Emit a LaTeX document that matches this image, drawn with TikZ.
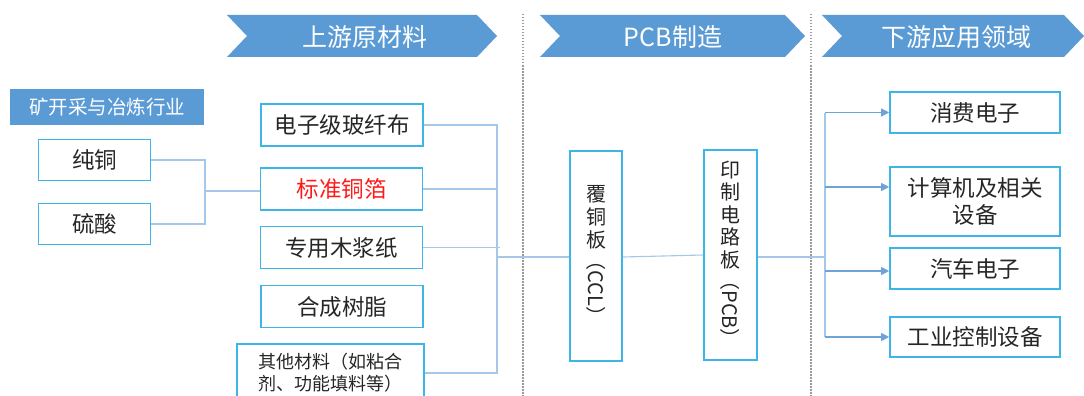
\documentclass[tikz,border=0pt]{standalone}
\usepackage{fontspec}
\setmainfont{Noto Sans CJK SC}
\usetikzlibrary{arrows.meta,calc}
\definecolor{bannerblue}{HTML}{5B9BD5}
\definecolor{boxline}{HTML}{3CB6E8}
\definecolor{conn}{HTML}{A6C8E8}
\definecolor{arrowblue}{HTML}{6FA3D8}
\definecolor{txt}{HTML}{262626}
\definecolor{dashgray}{HTML}{9A9A9A}
\definecolor{redtxt}{HTML}{FF1A1A}
\tikzset{
  box/.style={draw=boxline, line width=1.6pt, fill=white, text=txt, inner sep=0pt, align=center},
  boxtext/.style={font=\fontsize{22.5}{27}\selectfont},
  conline/.style={draw=conn, line width=1.1pt},
  arrline/.style={draw=arrowblue, line width=1.1pt, -{Triangle[length=8pt,width=8pt]}},
  divider/.style={draw=dashgray, line width=1.2pt, dash pattern=on 1.5pt off 1.5pt},
  banner/.style={fill=bannerblue, draw=none},
  bannertext/.style={text=white, font=\fontsize{25}{30}\selectfont}
}
\begin{document}
\begin{tikzpicture}[x=1pt,y=-1pt]
\useasboundingbox (0,0) rectangle (1084,396);
\fill[white] (0,0) rectangle (1084,396);

% dividers
\draw[divider] (523,14) -- (523,396);
\draw[divider] (811,14) -- (811,396);

% banners
\fill[banner] (227,15) -- (477,15) -- (497,36) -- (477,57) -- (227,57) -- (247,36) -- cycle;
\node[bannertext] (b1) at (365,37) {上游原材料};
\fill[banner] (540,15) -- (785,15) -- (805,36) -- (785,57) -- (540,57) -- (560,36) -- cycle;
\node[bannertext] (b2) at (673,37) {PCB制造};
\fill[banner] (822,15) -- (1064,15) -- (1084,36) -- (1064,57) -- (822,57) -- (842,36) -- cycle;
\node[bannertext] (b3) at (956,37) {下游应用领域};

% mining header
\node[fill=bannerblue, text=white, minimum width=194pt, minimum height=36pt, inner sep=0pt,
      font=\fontsize{19.5}{23}\selectfont] (ore) at (107,107) {矿开采与冶炼行业};

% left boxes
\node[box, boxtext, minimum width=112pt, minimum height=41pt] (cu) at (94.5,160) {纯铜};
\node[box, boxtext, minimum width=112pt, minimum height=41pt] (acid) at (94.5,224) {硫酸};

% upstream boxes
\node[box, boxtext, minimum width=162pt, minimum height=42pt] (glass) at (342,125) {电子级玻纤布};
\node[box, boxtext, minimum width=162pt, minimum height=42pt, text=redtxt] (foil) at (341.5,189) {标准铜箔};
\node[box, boxtext, minimum width=162pt, minimum height=42pt] (paper) at (341.5,247.5) {专用木浆纸};
\node[box, boxtext, minimum width=162pt, minimum height=42pt] (resin) at (342,306.5) {合成树脂};
\node[box, minimum width=187pt, minimum height=58pt, font=\fontsize{18}{22}\selectfont] (other) at (330.5,373) {其他材料（如粘合\\剂、功能填料等）};

% PCB boxes
\node[box, minimum width=52pt, minimum height=210pt, font=\fontsize{20}{23}\selectfont] (ccl) at (596,256)
  {覆\\铜\\板\\[-20pt]\rotatebox{-90}{（CCL）}};
\node[box, minimum width=53pt, minimum height=210pt, font=\fontsize{20}{22.5}\selectfont] (pcb) at (730.5,255)
  {印\\制\\电\\路\\板\\[-19.5pt]\rotatebox{-90}{（PCB）}};

% downstream boxes
\node[box, boxtext, minimum width=170pt, minimum height=41pt] (cons) at (975,112.5) {消费电子};
\node[box, boxtext, minimum width=170pt, minimum height=69pt] (comp) at (975,201.5) {计算机及相关\\设备};
\node[box, boxtext, minimum width=170pt, minimum height=41pt] (auto) at (975,268.5) {汽车电子};
\node[box, boxtext, minimum width=170pt, minimum height=40pt] (ind) at (975,337) {工业控制设备};

% junction coordinates
\coordinate (jA) at (205,191);
\coordinate (jB) at (497,257);
\coordinate (jC) at (825,257);

% left bracket
\draw[conline] (cu.east) -| (jA) |- (acid.east);
\draw[conline] (jA) -- (foil.west |- jA);

% upstream bracket
\draw[conline] (glass.east) -| (jB);
\draw[conline] (other.east) -| (jB);
\draw[conline] (foil.east) -- (foil.east -| jB);
\draw[conline] (paper.east) -- ($(paper.east -| jB)+(3,0)$);
\draw[conline] (jB) -- (ccl.west |- jB);
\draw[conline] (ccl.east |- jB) -- (pcb.west |- 0,255);
\draw[conline] (pcb.east |- jB) -- (jC);

% downstream
\draw[conline] (jC |- cons.west) -- (jC |- ind.west);
\draw[arrline] (jC |- cons.west) -- (cons.west);
\draw[arrline] (jC |- 0,187) -- (comp.west |- 0,187);
\draw[arrline] (jC |- 0,271) -- (auto.west |- 0,271);
\draw[arrline] (jC |- ind.west) -- (ind.west);
\end{tikzpicture}
\end{document}
